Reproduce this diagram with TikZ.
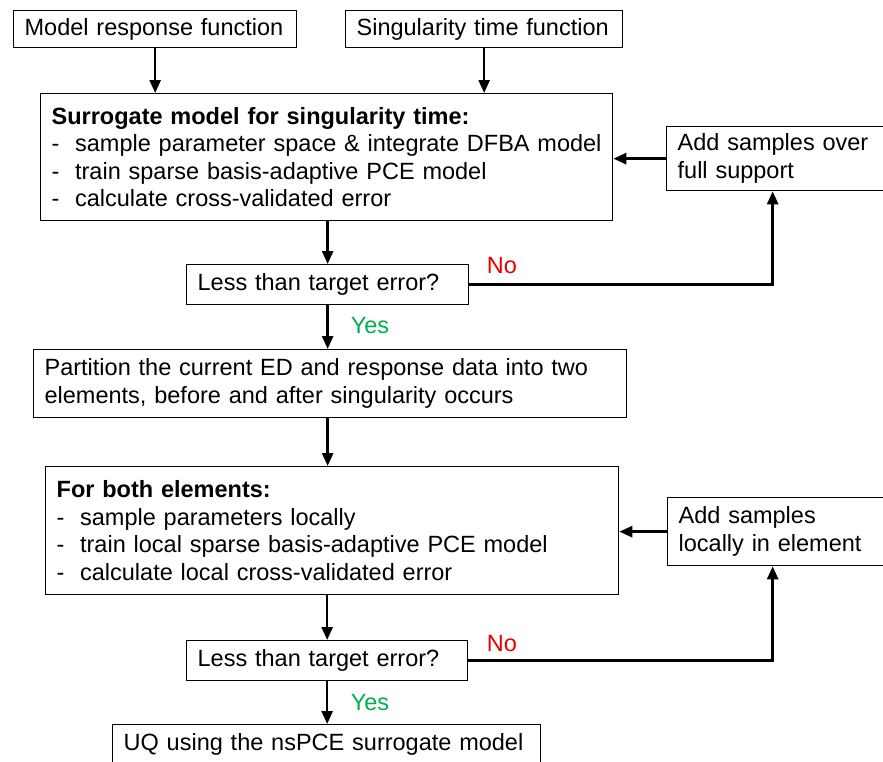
\documentclass[tikz,border=0pt]{standalone}
\usepackage{fontspec}
\setmainfont{Liberation Sans}
\usetikzlibrary{arrows.meta}
\definecolor{noRed}{RGB}{235,0,0}
\definecolor{yesGreen}{RGB}{0,176,80}
\begin{document}
\begin{tikzpicture}[x=1pt,y=-1pt,
  box/.style={draw, line width=1.3pt, inner xsep=11pt, inner ysep=0pt,
    font=\fontsize{23.5}{27.5}\selectfont, align=left, anchor=north west},
  conn/.style={line width=2.6pt, -{Triangle[length=13pt,width=11pt]}},
  lbl/.style={font=\fontsize{23.5}{27}\selectfont, inner sep=0pt}]
\useasboundingbox (0,0) rectangle (883,761);
\clip (0,0) rectangle (883,761);

\node[box, text width=261pt, minimum height=37pt] (mrf) at (13,10) {Model response function};
\node[box, text width=255pt, minimum height=37pt] (stf) at (345,10) {Singularity time function};
\node[box, text width=550pt, minimum height=127pt] (sur) at (40,93)
  {\textbf{Surrogate model for singularity time:}\\
   \mbox{-\ \ sample parameter space \& integrate DFBA model}\\
   -\ \ train sparse basis-adaptive PCE model\\
   -\ \ calculate cross-validated error};
\node[box, text width=218pt, minimum height=64pt] (add1) at (666,126)
  {Add samples over\\full support};
\node[box, text width=260pt, minimum height=40pt] (less1) at (186,264) {Less than target error?};
\node[box, text width=571pt, minimum height=68pt] (part) at (33,349)
  {\mbox{Partition the current ED and response data into two}\\
   elements, before and after singularity occurs};
\node[box, text width=551pt, minimum height=128pt] (both) at (45,466)
  {\textbf{For both elements:}\\
   -\ \ sample parameters locally\\
   \mbox{-\ \ train local sparse basis-adaptive PCE model}\\
   -\ \ calculate local cross-validated error};
\node[box, text width=218pt, minimum height=68pt] (add2) at (667,497)
  {Add samples\\locally in element};
\node[box, text width=259pt, minimum height=40pt] (less2) at (186,640) {Less than target error?};
\node[box, text width=406pt, minimum height=40pt] (uq) at (112,724) {UQ using the nsPCE surrogate model};

\draw[conn] (mrf.south) -- (mrf.south |- sur.north);
\draw[conn] (stf.south) -- (stf.south |- sur.north);
\draw[conn] (sur.south -| less1.north) -- (less1.north);
\draw[conn] (less1.south) -- (less1.south |- part.north);
\draw[conn] (part.south -| less1.south) -- (both.north -| less1.south);
\draw[conn] (both.south -| less2.north) -- (less2.north);
\draw[conn] (less2.south) -- (less2.south |- uq.north);

\draw[conn] (add1.west) -- (add1.west -| sur.east);
\draw[conn] (add2.west) -- (add2.west -| both.east);
\draw[conn] (less1.east) -| ([xshift=-14pt]add1.south);
\draw[conn] (less2.east) -| ([xshift=-15pt]add2.south);

\node[lbl, text=noRed] (no1) at (502,266) {No};
\node[lbl, text=yesGreen] (yes1) at (370,326) {Yes};
\node[lbl, text=noRed] (no2) at (502,644) {No};
\node[lbl, text=yesGreen] (yes2) at (370,703) {Yes};
\end{tikzpicture}
\end{document}
